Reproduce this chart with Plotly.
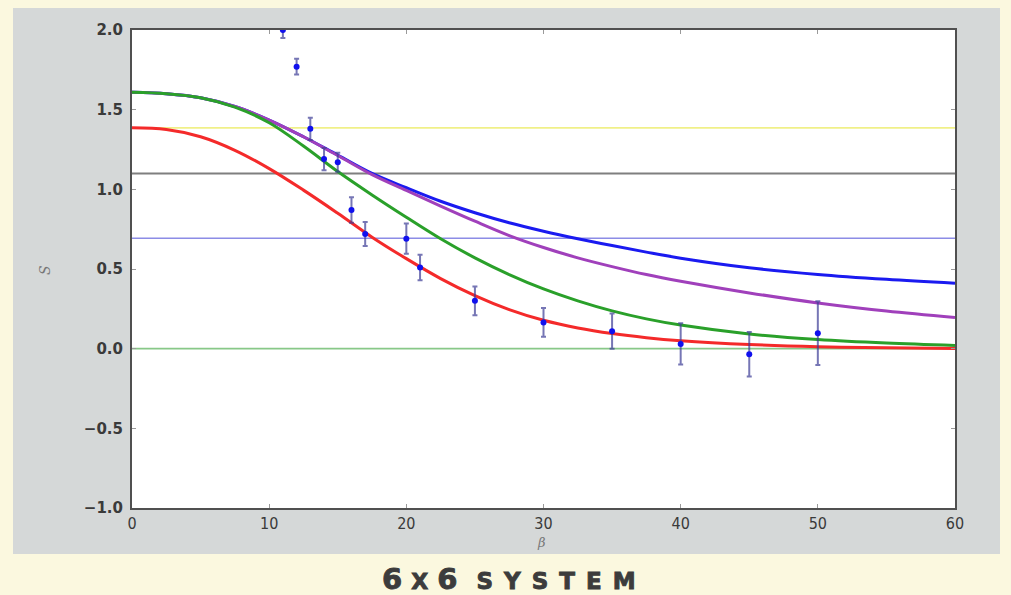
import plotly.graph_objects as go

# ---- data ----
beta_grid = [0, 2.5, 5, 7.5, 10, 12.5, 15, 17.5, 20, 22.5, 25, 27.5, 30,
             32.5, 35, 37.5, 40, 45, 50, 55, 60]
S_blue   = [1.609, 1.600, 1.575, 1.520, 1.435, 1.330, 1.215, 1.100, 1.010, 0.925, 0.853,
            0.790, 0.737, 0.690, 0.647, 0.606, 0.568, 0.508, 0.466, 0.435, 0.410]
S_purple = [1.609, 1.600, 1.575, 1.520, 1.435, 1.330, 1.212, 1.092, 0.993, 0.895, 0.800,
            0.710, 0.635, 0.570, 0.515, 0.465, 0.423, 0.350, 0.287, 0.236, 0.195]
S_green  = [1.609, 1.600, 1.575, 1.516, 1.418, 1.272, 1.112, 0.965, 0.825, 0.690, 0.570,
            0.465, 0.375, 0.300, 0.237, 0.187, 0.148, 0.092, 0.057, 0.035, 0.020]
S_red    = [1.386, 1.375, 1.330, 1.245, 1.130, 0.995, 0.850, 0.700, 0.565, 0.440, 0.333,
            0.245, 0.178, 0.130, 0.095, 0.069, 0.050, 0.026, 0.012, 0.005, 0.001]

hline_values = [1.386, 1.099, 0.693, 0.0]
hline_colors = ["#f0f088", "#7f7f7f", "#8c8ce6", "#88c888"]

beta_pts = [11, 12, 13, 14, 15, 16, 17, 20, 21, 25, 30, 35, 40, 45, 50]
S_pts    = [2.00, 1.77, 1.38, 1.19, 1.17, 0.87, 0.72, 0.69, 0.51, 0.30, 0.165, 0.11, 0.03, -0.035, 0.097]
S_err    = [0.05, 0.05, 0.07, 0.07, 0.06, 0.08, 0.075, 0.095, 0.08, 0.09, 0.09, 0.11, 0.13, 0.14, 0.20]

x_ticks = [0, 10, 20, 30, 40, 50, 60]
y_ticks = [-1.0, -0.5, 0.0, 0.5, 1.0, 1.5, 2.0]
y_tick_text = ["\u22121.0", "\u22120.5", "0.0", "0.5", "1.0", "1.5", "2.0"]

# ---- figure ----
W, H = 1011, 595
L, R, T, B = 132, 56, 30, 87
pw, ph = W - L - R, H - T - B

def px_x(p):
    return (p - L) / pw

def px_y(p):
    return (H - B - p) / ph

fig = go.Figure()

for v, c in zip(hline_values, hline_colors):
    fig.add_trace(go.Scatter(x=[x_ticks[0], x_ticks[-1]], y=[v, v], mode="lines",
                             line=dict(color=c, width=2 if c == "#7f7f7f" else 1.6),
                             hoverinfo="skip", showlegend=False))

for ys, c in [(S_blue, "#1a1af0"), (S_purple, "#a040bb"), (S_green, "#2aa02a"), (S_red, "#f42a2a")]:
    fig.add_trace(go.Scatter(x=beta_grid, y=ys, mode="lines",
                             line=dict(color=c, width=3, shape="spline", smoothing=1.0),
                             showlegend=False))

fig.add_trace(go.Scatter(x=beta_pts, y=S_pts, mode="markers",
                         marker=dict(color="#1010ee", size=6),
                         error_y=dict(type="data", array=S_err, visible=True,
                                      color="rgba(60,60,150,0.7)", thickness=2, width=2.5),
                         showlegend=False))

# gray panel behind the chart and white plot area
fig.add_shape(type="rect", xref="paper", yref="paper",
              x0=px_x(13), x1=px_x(1000), y0=px_y(554), y1=px_y(8),
              fillcolor="#d5d8d8", line=dict(width=0), layer="below")
fig.add_shape(type="rect", xref="x", yref="y", x0=0, x1=60, y0=-1, y1=2,
              fillcolor="white", line=dict(width=0), layer="below")

axis_common = dict(showgrid=False, zeroline=False, showline=True, linecolor="#505050",
                   linewidth=2, mirror="ticks", ticks="inside", ticklen=4,
                   tickcolor="#9a9a9a", tickwidth=1)

fig.update_xaxes(range=[0, 60], tickvals=x_ticks, ticktext=[str(v) for v in x_ticks],
                 tickfont=dict(family="DejaVu Sans Condensed, DejaVu Sans", size=16, color="#3a3a3a"),
                 **axis_common)
fig.update_yaxes(range=[-1, 2], tickvals=y_ticks, ticktext=y_tick_text,
                 tickfont=dict(family="DejaVu Sans", size=15, color="#3a3a3a", weight="bold"),
                 ticklabelstandoff=4, **axis_common)

fig.add_annotation(text="<i>S</i>", xref="paper", yref="paper", x=px_x(45), y=px_y(270),
                   xanchor="center", yanchor="middle", showarrow=False, textangle=-90,
                   font=dict(family="DejaVu Serif", size=14, color="#777777"))
fig.add_annotation(text="<i>\u03b2</i>", xref="paper", yref="paper", x=px_x(541), y=px_y(542),
                   xanchor="center", yanchor="middle", showarrow=False,
                   font=dict(family="DejaVu Serif", size=13, color="#777777"))
fig.add_annotation(
    text=("<span style='letter-spacing:9px;stroke:#3c3c3c;stroke-width:0.9px'>6"
          "<span style='font-size:22px'>X</span>6</span>"
          " <span style='font-size:23px;letter-spacing:11px;stroke:#3c3c3c;stroke-width:0.9px'>SYSTEM</span>"),
    xref="paper", yref="paper", x=px_x(514), y=px_y(579),
    xanchor="center", yanchor="middle", showarrow=False,
    font=dict(family="DejaVu Sans", size=29, color="#3c3c3c", weight="bold"))

fig.update_layout(width=W, height=H, margin=dict(l=L, r=R, t=T, b=B),
                  paper_bgcolor="#fbf8df", plot_bgcolor="white")

fig.write_html(
    "out.html",
    config={"displayModeBar": False},
    post_script=("document.body.style.margin='0';document.body.style.padding='0';"
                 "document.body.style.background='#fbf8df';document.body.style.overflow='hidden';"))
